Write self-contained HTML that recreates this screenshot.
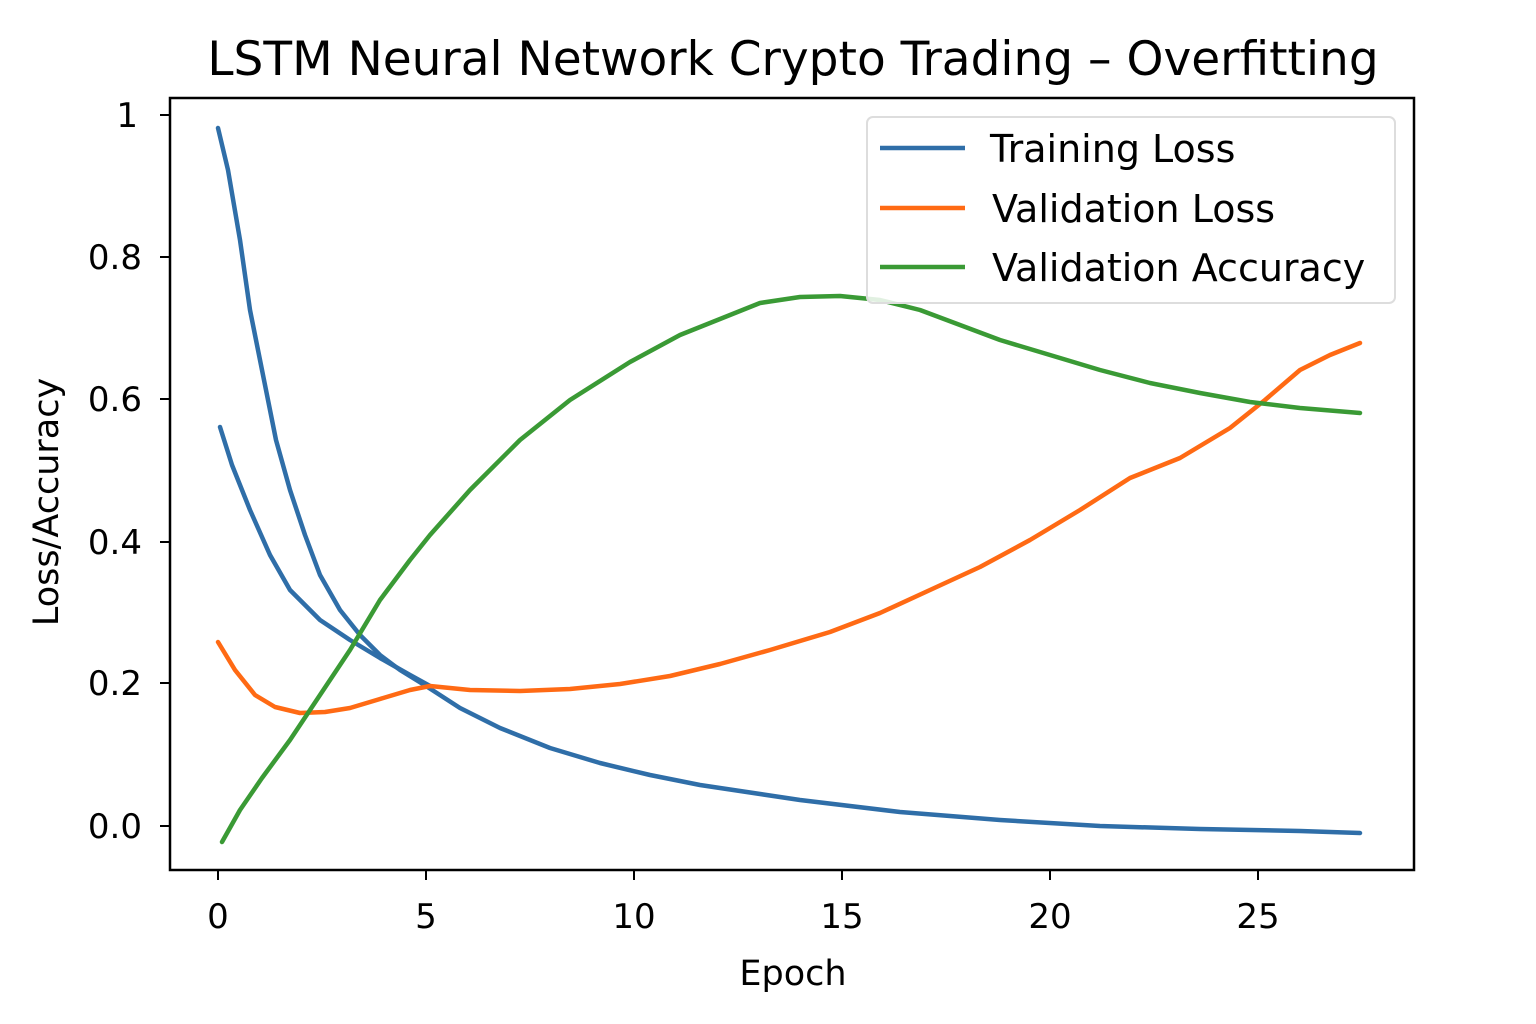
<!DOCTYPE html>
<html><head><meta charset="utf-8"><style>
body{margin:0;background:#fff}
svg{display:block}
text{font-family:"DejaVu Sans","Liberation Sans",sans-serif;fill:#000}
</style></head><body>
<svg width="1536" height="1024" viewBox="0 0 1536 1024">
<rect width="1536" height="1024" fill="#fff"/>
<text x="793" y="75" font-size="47" text-anchor="middle">LSTM Neural Network Crypto Trading – Overfitting</text>
<g fill="none" stroke-width="4.5" stroke-linejoin="round" stroke-linecap="round">
<polyline stroke="#2f6ea8" points="218,128 228,170 240,240 250,310 262,370 276,440 290,490 305,535 320,575 340,610 360,635 380,655 400,670 426,686 460,708 500,728 550,748 600,763 650,775 700,785 800,800 900,812 1000,820 1100,826 1200,829 1300,831 1360,833"/>
<polyline stroke="#2f6ea8" points="220,427 232,465 250,510 270,555 290,590 320,620 350,640 380,658 410,675 430,686"/>
<polyline stroke="#ff6a14" points="218,642 235,670 255,695 275,707 300,713 325,712 350,708 380,699 410,690 430,686 470,690 520,691 570,689 620,684 670,676 720,664 770,650 830,632 880,613 930,590 980,567 1030,540 1080,510 1130,478 1180,458 1230,428 1265,400 1300,370 1330,355 1360,343"/>
<polyline stroke="#3a9a35" points="222,842 240,810 262,778 290,740 320,695 350,650 380,600 410,560 430,535 470,490 520,440 570,400 630,362 680,335 730,315 760,303 800,297 840,296 880,300 920,310 960,325 1000,340 1050,355 1100,370 1150,383 1200,393 1250,402 1300,408 1360,413"/>
</g>
<rect x="170" y="98" width="1244" height="772" fill="none" stroke="#000" stroke-width="2.5"/>
<g stroke="#000" stroke-width="2">
<line x1="218" y1="870" x2="218" y2="880"/><line x1="426" y1="870" x2="426" y2="880"/><line x1="634" y1="870" x2="634" y2="880"/><line x1="842" y1="870" x2="842" y2="880"/><line x1="1050" y1="870" x2="1050" y2="880"/><line x1="1258" y1="870" x2="1258" y2="880"/>
<line x1="160" y1="115" x2="170" y2="115"/><line x1="160" y1="257" x2="170" y2="257"/><line x1="160" y1="399" x2="170" y2="399"/><line x1="160" y1="542" x2="170" y2="542"/><line x1="160" y1="683" x2="170" y2="683"/><line x1="160" y1="826" x2="170" y2="826"/>
</g>
<g font-size="34" text-anchor="middle">
<text x="218" y="928">0</text><text x="426" y="928">5</text><text x="634" y="928">10</text><text x="842" y="928">15</text><text x="1050" y="928">20</text><text x="1258" y="928">25</text>
</g>
<g font-size="34" text-anchor="end">
<text x="138" y="127">1</text><text x="142" y="269">0.8</text><text x="142" y="411">0.6</text><text x="142" y="554">0.4</text><text x="142" y="695">0.2</text><text x="142" y="838">0.0</text>
</g>
<text x="793" y="985" font-size="35" text-anchor="middle">Epoch</text>
<text transform="translate(58,502) rotate(-90)" font-size="35" text-anchor="middle">Loss/Accuracy</text>
<rect x="867" y="117" width="528" height="186" rx="6" fill="#fff" fill-opacity="0.85" stroke="#ddd" stroke-width="2"/>
<g stroke-width="4.5">
<line x1="880" y1="148" x2="965" y2="148" stroke="#2f6ea8"/>
<line x1="880" y1="208" x2="965" y2="208" stroke="#ff6a14"/>
<line x1="880" y1="267" x2="965" y2="267" stroke="#3a9a35"/>
</g>
<g font-size="38">
<text x="990" y="162">Training Loss</text>
<text x="992" y="222">Validation Loss</text>
<text x="992" y="281">Validation Accuracy</text>
</g>
</svg>
</body></html>
